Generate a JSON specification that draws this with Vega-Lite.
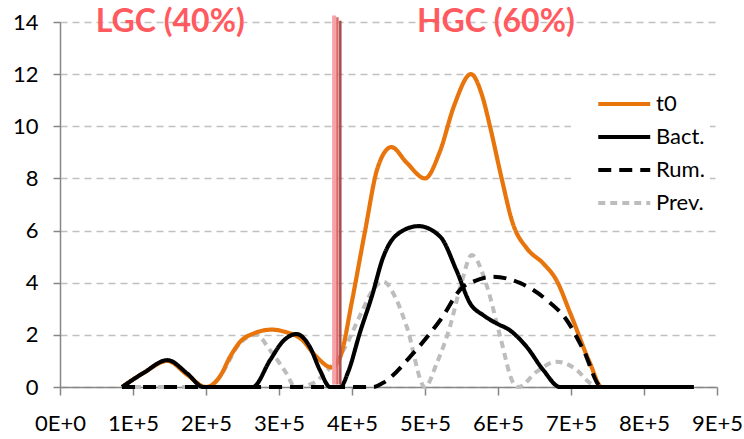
{
  "$schema": "https://vega.github.io/schema/vega-lite/v6.json",
  "width": 657,
  "height": 365,
  "autosize": {"type": "none"},
  "padding": {"left": 60, "top": 22, "right": 27, "bottom": 52},
  "background": "white",
  "config": {
    "view": {"stroke": null},
    "font": "Lato",
    "axis": {
      "labelFont": "Lato",
      "labelFontSize": 22,
      "labelColor": "#000000",
      "domainColor": "#868686",
      "domainWidth": 1.5,
      "tickColor": "#868686",
      "tickWidth": 1.5,
      "tickSize": 7,
      "title": null
    },
    "legend": {
      "title": null,
      "orient": "none",
      "legendX": 511,
      "legendY": 66,
      "padding": 5,
      "fillColor": "white",
      "symbolType": "M1.3,0H7.3",
      "symbolSize": 300,
      "labelOffset": 58,
      "rowPadding": 11,
      "labelFont": "Lato",
      "labelFontSize": 22,
      "labelColor": "#000000"
    }
  },
  "layer": [
    {
      "data": {
        "values": [
          {"series": "Prev.", "x": 85000, "y": 0},
          {"series": "Prev.", "x": 205000, "y": 0},
          {"series": "Prev.", "x": 219000, "y": 0.4},
          {"series": "Prev.", "x": 247000, "y": 1.7},
          {"series": "Prev.", "x": 269000, "y": 2.0},
          {"series": "Prev.", "x": 288000, "y": 1.4},
          {"series": "Prev.", "x": 310000, "y": 0.53},
          {"series": "Prev.", "x": 322000, "y": 0},
          {"series": "Prev.", "x": 347000, "y": 0.15},
          {"series": "Prev.", "x": 365000, "y": 0.6},
          {"series": "Prev.", "x": 388000, "y": 1.4},
          {"series": "Prev.", "x": 412000, "y": 2.8},
          {"series": "Prev.", "x": 428000, "y": 3.7},
          {"series": "Prev.", "x": 443000, "y": 4.04},
          {"series": "Prev.", "x": 460000, "y": 3.4},
          {"series": "Prev.", "x": 475000, "y": 2.31},
          {"series": "Prev.", "x": 500000, "y": 0},
          {"series": "Prev.", "x": 516000, "y": 0.9},
          {"series": "Prev.", "x": 534000, "y": 2.3},
          {"series": "Prev.", "x": 550000, "y": 4.0},
          {"series": "Prev.", "x": 564000, "y": 5.06},
          {"series": "Prev.", "x": 585000, "y": 3.85},
          {"series": "Prev.", "x": 603000, "y": 1.93},
          {"series": "Prev.", "x": 621000, "y": 0.15},
          {"series": "Prev.", "x": 628000, "y": 0},
          {"series": "Prev.", "x": 653000, "y": 0.59},
          {"series": "Prev.", "x": 680000, "y": 0.97},
          {"series": "Prev.", "x": 708000, "y": 0.65},
          {"series": "Prev.", "x": 726000, "y": 0.15},
          {"series": "Prev.", "x": 740000, "y": 0},
          {"series": "Prev.", "x": 868000, "y": 0},
          {"series": "t0", "x": 85000, "y": 0},
          {"series": "t0", "x": 115000, "y": 0.55},
          {"series": "t0", "x": 147000, "y": 1.0},
          {"series": "t0", "x": 175000, "y": 0.45},
          {"series": "t0", "x": 200000, "y": 0},
          {"series": "t0", "x": 219000, "y": 0.4},
          {"series": "t0", "x": 233000, "y": 1.16},
          {"series": "t0", "x": 247000, "y": 1.74},
          {"series": "t0", "x": 265000, "y": 2.05},
          {"series": "t0", "x": 290000, "y": 2.2},
          {"series": "t0", "x": 310000, "y": 2.1},
          {"series": "t0", "x": 330000, "y": 1.85},
          {"series": "t0", "x": 350000, "y": 1.2},
          {"series": "t0", "x": 372000, "y": 0.75},
          {"series": "t0", "x": 384000, "y": 1.16},
          {"series": "t0", "x": 400000, "y": 3.3},
          {"series": "t0", "x": 418000, "y": 6.0},
          {"series": "t0", "x": 435000, "y": 8.4},
          {"series": "t0", "x": 454000, "y": 9.2},
          {"series": "t0", "x": 475000, "y": 8.6},
          {"series": "t0", "x": 500000, "y": 8.0},
          {"series": "t0", "x": 520000, "y": 9.0},
          {"series": "t0", "x": 540000, "y": 10.8},
          {"series": "t0", "x": 563000, "y": 12.0},
          {"series": "t0", "x": 578000, "y": 11.2},
          {"series": "t0", "x": 589000, "y": 10.0},
          {"series": "t0", "x": 605000, "y": 8.0},
          {"series": "t0", "x": 620000, "y": 6.3},
          {"series": "t0", "x": 640000, "y": 5.3},
          {"series": "t0", "x": 662000, "y": 4.74},
          {"series": "t0", "x": 680000, "y": 4.1},
          {"series": "t0", "x": 699000, "y": 2.83},
          {"series": "t0", "x": 726000, "y": 0.92},
          {"series": "t0", "x": 742000, "y": 0},
          {"series": "t0", "x": 868000, "y": 0},
          {"series": "Rum.", "x": 85000, "y": 0},
          {"series": "Rum.", "x": 429000, "y": 0},
          {"series": "Rum.", "x": 442000, "y": 0.15},
          {"series": "Rum.", "x": 484000, "y": 1.3},
          {"series": "Rum.", "x": 521000, "y": 2.57},
          {"series": "Rum.", "x": 552000, "y": 3.84},
          {"series": "Rum.", "x": 566000, "y": 4.04},
          {"series": "Rum.", "x": 593000, "y": 4.23},
          {"series": "Rum.", "x": 630000, "y": 3.99},
          {"series": "Rum.", "x": 667000, "y": 3.33},
          {"series": "Rum.", "x": 694000, "y": 2.57},
          {"series": "Rum.", "x": 717000, "y": 1.42},
          {"series": "Rum.", "x": 742000, "y": 0},
          {"series": "Rum.", "x": 868000, "y": 0},
          {"series": "Bact.", "x": 85000, "y": 0},
          {"series": "Bact.", "x": 115000, "y": 0.55},
          {"series": "Bact.", "x": 147000, "y": 1.03},
          {"series": "Bact.", "x": 175000, "y": 0.5},
          {"series": "Bact.", "x": 196000, "y": 0},
          {"series": "Bact.", "x": 264000, "y": 0},
          {"series": "Bact.", "x": 288000, "y": 1.04},
          {"series": "Bact.", "x": 305000, "y": 1.74},
          {"series": "Bact.", "x": 324000, "y": 2.03},
          {"series": "Bact.", "x": 342000, "y": 1.55},
          {"series": "Bact.", "x": 356000, "y": 0.65},
          {"series": "Bact.", "x": 370000, "y": 0},
          {"series": "Bact.", "x": 384000, "y": 0},
          {"series": "Bact.", "x": 395000, "y": 0.6},
          {"series": "Bact.", "x": 411000, "y": 2.1},
          {"series": "Bact.", "x": 427000, "y": 3.46},
          {"series": "Bact.", "x": 443000, "y": 5.0},
          {"series": "Bact.", "x": 461000, "y": 5.83},
          {"series": "Bact.", "x": 491000, "y": 6.17},
          {"series": "Bact.", "x": 521000, "y": 5.76},
          {"series": "Bact.", "x": 543000, "y": 4.48},
          {"series": "Bact.", "x": 562000, "y": 3.2},
          {"series": "Bact.", "x": 580000, "y": 2.75},
          {"series": "Bact.", "x": 598000, "y": 2.44},
          {"series": "Bact.", "x": 616000, "y": 2.18},
          {"series": "Bact.", "x": 639000, "y": 1.55},
          {"series": "Bact.", "x": 662000, "y": 0.65},
          {"series": "Bact.", "x": 685000, "y": 0},
          {"series": "Bact.", "x": 868000, "y": 0}
        ]
      },
      "mark": {"type": "line", "interpolate": "monotone"},
      "encoding": {
        "x": {
          "field": "x",
          "type": "quantitative",
          "scale": {"domain": [0, 900000], "nice": false},
          "axis": {
            "values": [0, 100000, 200000, 300000, 400000, 500000, 600000, 700000, 800000, 900000],
            "labelExpr": "datum.value == 0 ? '0E+0' : round(datum.value / 100000) + 'E+5'",
            "grid": false,
            "tickSize": 8,
            "labelPadding": 18,
            "labelFlush": false,
            "labelOverlap": false
          }
        },
        "y": {
          "field": "y",
          "type": "quantitative",
          "scale": {"domain": [0, 14], "nice": false},
          "axis": {
            "values": [0, 2, 4, 6, 8, 10, 12, 14],
            "grid": true,
            "gridColor": "#C0C0C0",
            "gridDash": [7, 5],
            "gridWidth": 1.3,
            "labelPadding": 15
          }
        },
        "color": {
          "field": "series",
          "type": "nominal",
          "scale": {"domain": ["t0", "Bact.", "Rum.", "Prev."], "range": ["#E8740C", "#000000", "#000000", "#BDBDBD"]}
        },
        "strokeDash": {
          "field": "series",
          "type": "nominal",
          "scale": {"domain": ["t0", "Bact.", "Rum.", "Prev."], "range": [[1, 0], [1, 0], [13, 8], [7, 5]]}
        },
        "strokeWidth": {
          "field": "series",
          "type": "ordinal",
          "scale": {"domain": ["t0", "Bact.", "Rum.", "Prev."], "range": [4.2, 4, 4, 2]}
        }
      }
    },
    {
      "data": {"values": [{"pos": 375500, "bottom": 0.1, "top": 14.25}]},
      "mark": {"type": "rule", "color": "#F5A3A6", "strokeWidth": 4},
      "encoding": {
        "x": {"field": "pos", "type": "quantitative"},
        "y": {"field": "bottom", "type": "quantitative"},
        "y2": {"field": "top"}
      }
    },
    {
      "data": {"values": [{"pos": 380000, "bottom": 0.1, "top": 14.18}]},
      "mark": {"type": "rule", "color": "#E0686D", "strokeWidth": 2.5},
      "encoding": {
        "x": {"field": "pos", "type": "quantitative"},
        "y": {"field": "bottom", "type": "quantitative"},
        "y2": {"field": "top"}
      }
    },
    {
      "data": {"values": [{"pos": 384000, "bottom": 0.1, "top": 14.05}]},
      "mark": {"type": "rule", "color": "#A3504F", "strokeWidth": 2.5},
      "encoding": {
        "x": {"field": "pos", "type": "quantitative"},
        "y": {"field": "bottom", "type": "quantitative"},
        "y2": {"field": "top"}
      }
    },
    {
      "data": {
        "values": [
          {"label": "LGC (40%)", "x": 151000, "y": 14},
          {"label": "HGC (60%)", "x": 597000, "y": 14}
        ]
      },
      "mark": {"type": "text", "font": "Lato", "fontWeight": "bold", "fontSize": 32, "color": "#FF5A5F", "baseline": "middle", "align": "center"},
      "encoding": {
        "x": {"field": "x", "type": "quantitative"},
        "y": {"field": "y", "type": "quantitative"},
        "text": {"field": "label"}
      }
    }
  ]
}
